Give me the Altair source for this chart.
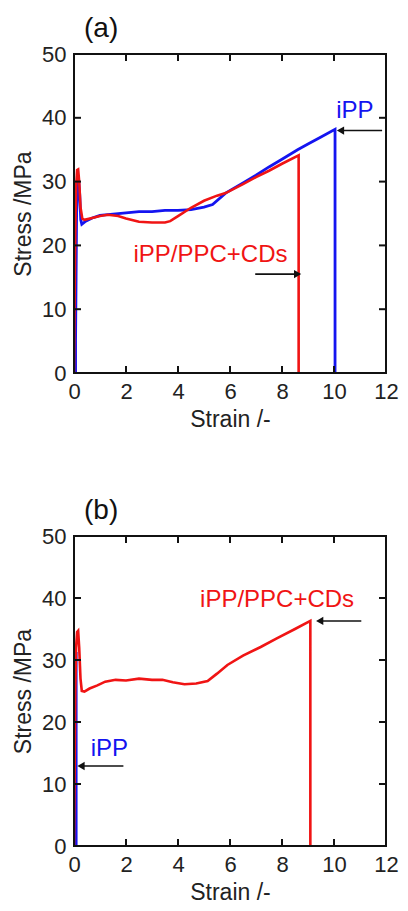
import altair as alt
import pandas as pd

# ---------------- data ----------------
# Panel (a)
a_ipp_strain = [0.06, 0.06, 0.08, 0.10, 0.14, 0.18, 0.22, 0.26, 0.30, 0.45, 0.70, 1.0, 1.5, 2.0, 2.5, 3.0, 3.5, 4.0, 4.5, 5.0, 5.33, 5.83, 6.5, 7.0, 7.5, 8.0, 8.6, 9.0, 9.5, 10.04, 10.04]
a_ipp_stress = [0.0, 5.0, 15.0, 25.0, 29.0, 30.2, 28.0, 24.0, 23.3, 23.8, 24.3, 24.7, 24.9, 25.1, 25.3, 25.3, 25.5, 25.5, 25.6, 26.0, 26.4, 28.2, 29.8, 31.0, 32.3, 33.5, 35.0, 35.9, 37.0, 38.2, 0.0]
a_cd_strain = [0.0, 0.02, 0.05, 0.08, 0.12, 0.16, 0.20, 0.25, 0.32, 0.40, 0.70, 1.0, 1.3, 1.7, 2.0, 2.5, 3.0, 3.5, 3.7, 4.0, 4.5, 5.0, 5.5, 5.83, 6.5, 7.0, 7.5, 8.0, 8.64, 8.64]
a_cd_stress = [0.0, 10.0, 22.0, 29.0, 31.8, 31.9, 30.0, 26.0, 24.2, 24.0, 24.3, 24.6, 24.8, 24.6, 24.2, 23.7, 23.6, 23.6, 23.8, 24.6, 25.9, 27.0, 27.8, 28.2, 29.6, 30.7, 31.7, 32.8, 34.1, 0.0]

# Panel (b)
b_ipp_strain = [0.06, 0.06]
b_ipp_stress = [0.0, 31.3]
b_cd_strain = [0.0, 0.02, 0.05, 0.08, 0.12, 0.16, 0.20, 0.25, 0.30, 0.40, 0.60, 0.90, 1.2, 1.6, 2.0, 2.5, 3.0, 3.4, 3.8, 4.25, 4.7, 5.14, 5.5, 5.9, 6.5, 7.18, 7.8, 8.5, 9.09, 9.09]
b_cd_stress = [0.0, 10.0, 25.0, 32.0, 34.5, 34.7, 32.0, 27.0, 25.0, 24.9, 25.4, 25.9, 26.5, 26.8, 26.7, 27.0, 26.8, 26.8, 26.4, 26.1, 26.2, 26.6, 27.8, 29.2, 30.7, 32.1, 33.5, 35.0, 36.3, 0.0]

# Annotations
a_labels = ["iPP", "iPP/PPC+CDs"]
a_label_x = [10.8, 5.25]
a_label_y = [41.0, 18.5]
a_label_color = ["#1414f0", "#f01414"]
a_arrow_x1 = [11.85, 6.97]
a_arrow_x2 = [10.25, 8.6]
a_arrow_y = [38.0, 15.5]
a_arrow_head = ["triangle-left", "triangle-right"]

b_labels = ["iPP/PPC+CDs", "iPP"]
b_label_x = [7.81, 1.36]
b_label_y = [39.7, 15.7]
b_label_color = ["#f01414", "#1414f0"]
b_arrow_x1 = [11.05, 1.9]
b_arrow_x2 = [9.45, 0.27]
b_arrow_y = [36.3, 12.9]
b_arrow_head = ["triangle-left", "triangle-left"]

x_ticks = [0, 2, 4, 6, 8, 10, 12]
y_ticks = [0, 10, 20, 30, 40, 50]
X_MAX = 12
Y_MAX = 50

BLUE = "#1414f0"
RED = "#f01414"
INK = "#111111"
FONT = "Liberation Sans"
TICK = 7  # tick length in pixels


def series(strain, stress):
    return pd.DataFrame({"strain": strain, "stress": stress, "idx": list(range(len(strain)))})


def panel(title, W, H, ipp, cd, labels, lx, ly, lcol, ax1, ax2, ay, heads, ipp_width):
    xs = alt.Scale(domain=[0, X_MAX], nice=False, zero=False)
    ys = alt.Scale(domain=[0, Y_MAX], nice=False, zero=False)
    x_axis = alt.Axis(values=x_ticks, title="Strain /-", orient="bottom", ticks=False, domain=False, grid=False,
                      labelFontSize=22, titleFontSize=23, labelPadding=8, titlePadding=6,
                      labelColor="#222", titleColor="#222", labelFont=FONT, titleFont=FONT,
                      titleFontWeight="normal", labelFlush=False)
    y_axis = alt.Axis(values=y_ticks, title="Stress /MPa", orient="left", ticks=False, domain=False, grid=False,
                      labelFontSize=22, titleFontSize=23, labelPadding=8, titlePadding=6,
                      labelColor="#222", titleColor="#222", labelFont=FONT, titleFont=FONT,
                      titleFontWeight="normal", labelFlush=False)

    def X(f):
        return alt.X(f, scale=xs, axis=None)

    def Y(f):
        return alt.Y(f, scale=ys, axis=None)

    ipp_line = alt.Chart(series(*ipp)).mark_line(color=BLUE, strokeWidth=ipp_width, clip=True).encode(
        x=alt.X("strain:Q", scale=xs, axis=x_axis),
        y=alt.Y("stress:Q", scale=ys, axis=y_axis),
        order="idx:Q",
    )
    cd_line = alt.Chart(series(*cd)).mark_line(color=RED, strokeWidth=2.6, clip=True).encode(
        x=X("strain:Q"), y=Y("stress:Q"), order="idx:Q",
    )

    lab_df = pd.DataFrame({"t": labels, "x": lx, "y": ly, "c": lcol})
    texts = alt.Chart(lab_df).mark_text(fontSize=24, font=FONT, align="center", baseline="middle").encode(
        x=X("x:Q"), y=Y("y:Q"), text="t:N", color=alt.Color("c:N", scale=None),
    )

    arr_df = pd.DataFrame({"x1": ax1, "x2": ax2, "y": ay, "head": heads})
    shafts = alt.Chart(arr_df).mark_rule(color=INK, strokeWidth=1.6).encode(
        x=X("x1:Q"), x2="x2:Q", y=Y("y:Q"),
    )
    heads_m = alt.Chart(arr_df).mark_point(filled=True, color=INK, size=70, opacity=1).encode(
        x=X("x2:Q"), y=Y("y:Q"), shape=alt.Shape("head:N", scale=None),
    )

    # inward tick marks on all four sides (tick length converted to data units)
    dy = TICK * Y_MAX / H
    dx = TICK * X_MAX / W
    xt = pd.DataFrame({
        "tx": x_ticks + x_ticks,
        "ya": [0.0] * len(x_ticks) + [float(Y_MAX)] * len(x_ticks),
        "yb": [dy] * len(x_ticks) + [Y_MAX - dy] * len(x_ticks),
    })
    yt = pd.DataFrame({
        "ty": y_ticks + y_ticks,
        "xa": [0.0] * len(y_ticks) + [float(X_MAX)] * len(y_ticks),
        "xb": [dx] * len(y_ticks) + [X_MAX - dx] * len(y_ticks),
    })
    xticks_m = alt.Chart(xt).mark_rule(color=INK, strokeWidth=2).encode(
        x=X("tx:Q"), y=Y("ya:Q"), y2="yb:Q")
    yticks_m = alt.Chart(yt).mark_rule(color=INK, strokeWidth=2).encode(
        y=Y("ty:Q"), x=X("xa:Q"), x2="xb:Q")

    # plot frame
    frame = alt.Chart(pd.DataFrame({"f": [0]})).mark_rect(
        fillOpacity=0, stroke=INK, strokeWidth=2
    ).encode(x=alt.value(0), x2=alt.value(W), y=alt.value(0), y2=alt.value(H))

    return alt.layer(ipp_line, cd_line, shafts, heads_m, texts, xticks_m, yticks_m, frame).resolve_axis(
        x="independent", y="independent"
    ).properties(
        width=W, height=H,
        title=alt.TitleParams(text=title, anchor="start", frame="group", fontSize=28, font=FONT,
                              fontWeight="normal", color=INK, dx=10, offset=0),
    )


pa = panel("(a)", 312, 319, (a_ipp_strain, a_ipp_stress), (a_cd_strain, a_cd_stress),
           a_labels, a_label_x, a_label_y, a_label_color, a_arrow_x1, a_arrow_x2, a_arrow_y, a_arrow_head, 2.8)
pb = panel("(b)", 312, 310, (b_ipp_strain, b_ipp_stress), (b_cd_strain, b_cd_stress),
           b_labels, b_label_x, b_label_y, b_label_color, b_arrow_x1, b_arrow_x2, b_arrow_y, b_arrow_head, 4)

chart = alt.vconcat(pa, pb, spacing=64).properties(
    padding={"left": 4, "top": 6, "right": 0, "bottom": 0},
    background="white",
)

chart.save("out.html", embed_options={"renderer": "svg", "actions": False})
